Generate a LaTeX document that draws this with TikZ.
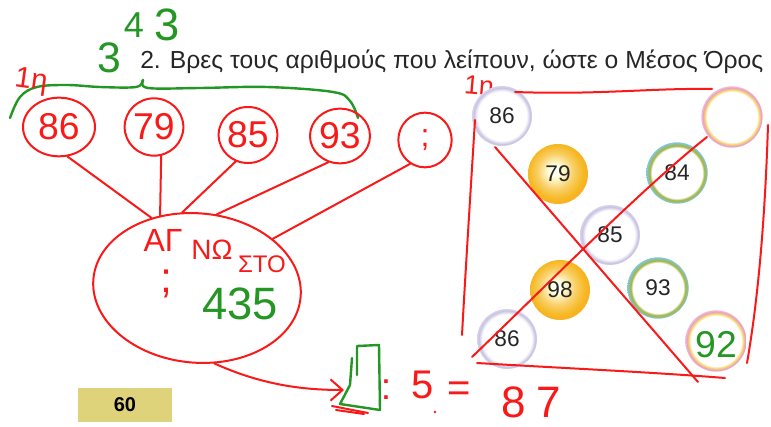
\documentclass[tikz,border=0pt]{standalone}
\usepackage{fontspec}
\setmainfont{Liberation Sans}
\usetikzlibrary{arrows.meta,shapes.geometric}
\definecolor{pen}{RGB}{250,25,25}
\definecolor{gpen}{RGB}{35,150,35}
\definecolor{gold}{RGB}{246,186,38}
\definecolor{lav}{RGB}{200,194,226}
\definecolor{khaki}{RGB}{222,211,122}
\definecolor{rimg}{RGB}{165,180,60}
\definecolor{rimc}{RGB}{125,200,228}
\definecolor{rimp}{RGB}{232,160,195}
\definecolor{rimy}{RGB}{246,214,105}
\pgfdeclareradialshading{balllav}{\pgfpoint{0bp}{0bp}}{color(0bp)=(white); color(20.5bp)=(white); color(23.5bp)=(lav); color(25bp)=(lav!70); color(50bp)=(white)}
\pgfdeclareradialshading{ballgold}{\pgfpoint{-3bp}{3bp}}{color(0bp)=(white); color(5bp)=(yellow!12!white); color(15bp)=(gold!70); color(22bp)=(gold); color(25bp)=(gold!85!orange); color(50bp)=(white)}
\pgfdeclareradialshading{ballgc}{\pgfpoint{0bp}{0bp}}{color(0bp)=(white); color(20.5bp)=(white); color(22.3bp)=(rimg); color(23.6bp)=(rimg!55!rimc); color(25bp)=(rimc); color(50bp)=(white)}
\pgfdeclareradialshading{ballpy}{\pgfpoint{0bp}{0bp}}{color(0bp)=(white); color(20.5bp)=(white); color(22.3bp)=(rimy); color(23.8bp)=(rimp); color(25bp)=(rimp!70); color(50bp)=(white)}
\begin{document}
\begin{tikzpicture}[x=0.75pt,y=-0.75pt,
  redpen/.style={draw=pen,line width=1.5pt,line cap=round,line join=round},
  greenpen/.style={draw=gpen,line width=1.8pt,line cap=round,line join=round},
  hc/.style={redpen,ellipse,inner sep=0pt,text=pen,font=\fontsize{28}{28}\selectfont},
  rtext/.style={text=pen,inner sep=0pt},
  gtext/.style={text=gpen,inner sep=0pt},
  ball/.style={circle,minimum size=45pt,inner sep=0pt,text=black!85,font=\fontsize{17}{17}\selectfont}]
\useasboundingbox (0,0) rectangle (771,427);
\fill[white] (0,0) rectangle (771,427);

% title
\node[anchor=base west,inner sep=0pt,text=black!85,font=\fontsize{18.5}{20}\selectfont] (title) at (140,69) {2. Βρες τους αριθμούς που λείπουν, ώστε ο Μέσος Όρος};

% green 343 and brace
\node[gtext,font=\fontsize{32}{32}\selectfont] (g3a) at (109,58) {3};
\node[gtext,font=\fontsize{27}{27}\selectfont] (g4) at (134,25) {4};
\node[gtext,font=\fontsize{34}{34}\selectfont] (g3b) at (167,25) {3};
\draw[greenpen] plot[smooth,tension=0.6] coordinates {(10,118) (20,97) (37,87) (67,85) (100,87) (136,87) (143,80)};
\draw[greenpen] plot[smooth,tension=0.6] coordinates {(143,80) (148,88) (200,88) (267,87) (333,92) (350,101) (358,118)};

% red 1η marks
\node[rtext,font=\fontsize{22}{22}\selectfont,rotate=-8] (m1) at (31,82) {1η};
\node[rtext,font=\fontsize{20}{20}\selectfont,rotate=-5] (m2) at (479,88) {1η};

% red circles
\node[hc,minimum width=54pt,minimum height=44pt] (c86) at (59,127) {86};
\node[hc,minimum width=43pt,minimum height=43pt] (c79) at (154,127) {79};
\node[hc,minimum width=44pt,minimum height=42pt] (c85) at (248,135) {85};
\node[hc,minimum width=45pt,minimum height=41pt] (c93) at (340,136) {93};
\node[hc,minimum width=40pt,minimum height=41pt,font=\fontsize{24}{24}\selectfont] (cq) at (425,140) {\raisebox{-5pt}{;}};

% big ellipse
\node[redpen,ellipse,minimum width=156pt,minimum height=112pt,rotate=-5] (sum) at (197,288) {};
\node[rtext,font=\fontsize{24}{24}\selectfont] (w1) at (163,240) {ΑΓ};
\node[rtext,font=\fontsize{21}{21}\selectfont] (w2) at (212,250) {ΝΩ};
\node[rtext,font=\fontsize{18}{18}\selectfont] (w3) at (262,264) {ΣΤΟ};
\node[rtext,font=\fontsize{32}{32}\selectfont] (w4) at (166,284) {;};
\node[gtext,font=\fontsize{34}{34}\selectfont] (s435) at (240,304) {435};

% connectors
\draw[redpen] (c86.-74) -- (sum.128);
\draw[redpen] (c79.-76) -- (sum.122);
\draw[redpen] (c85.-115) -- (sum.106);
\draw[redpen] (c93.-114) -- (sum.80);
\draw[redpen] (cq.-122) -- (sum.38);

% arrow to the green box
\coordinate (boxw) at (344,390);
\draw[redpen,-{Straight Barb[length=9pt,width=16pt,line width=1.5pt]}] (sum.-72) .. controls (260,384) and (300,390) .. (boxw);
\draw[greenpen] (357,375) -- (357,346) -- (379,345) -- (380,410) -- (340,404) -- (350,385) -- (352,358);
\draw[redpen] (332,406) -- (368,413);
\draw[redpen] (336,410) -- (364,414);

% equation
\node[rtext,font=\fontsize{28}{28}\selectfont] (eqc) at (386,390) {:};
\node[rtext,font=\fontsize{30}{30}\selectfont] (eq5) at (423,385) {5};
\fill[pen] (435,412) circle[radius=1.3];
\node[rtext,font=\fontsize{30}{30}\selectfont] (eqe) at (459,392) {=};
\node[rtext,font=\fontsize{33}{33}\selectfont] (eq87) at (531,402) {8\kern8pt 7};

% page number
\node[fill=khaki,minimum width=70.5pt,minimum height=25.5pt,inner sep=0pt,font=\bfseries\fontsize{15}{15}\selectfont] (page) at (125,405) {60};

% right grid of balls
\node[ball,shading=balllav] (b86a) at (502,116) {86};
\node[ball,shading=ballgold] (b79) at (558,174) {79};
\node[ball,shading=ballgc,minimum size=46pt] (b84) at (677,173) {84};
\node[ball,shading=ballpy,minimum size=46pt] (bq) at (732,117) {};
\node[ball,shading=balllav] (b85) at (610,235) {85};
\node[ball,shading=ballgold] (b98) at (560,290) {98};
\node[ball,shading=ballgc,minimum size=46pt] (b93) at (658,288) {93};
\node[ball,shading=balllav] (b86b) at (507,339) {86};
\node[ball,shading=ballpy,minimum size=46pt] (b92) at (716,341) {};
\node[gtext,font=\fontsize{28}{28}\selectfont] (n92) at (716,345) {92};

% red square and diagonals
\draw[redpen] (515,92) .. controls (600,95) and (650,88) .. (712,89);
\draw[redpen] (475,120) .. controls (470,200) and (465,280) .. (462,335);
\draw[redpen] (477,363) .. controls (560,368) and (650,372) .. (725,378);
\draw[redpen] (768,125) .. controls (765,220) and (758,300) .. (747,363);
\draw[redpen] (495,147) -- (698,382);
\draw[redpen] (707,137) .. controls (640,190) and (540,292) .. (472,357);
\end{tikzpicture}
\end{document}
